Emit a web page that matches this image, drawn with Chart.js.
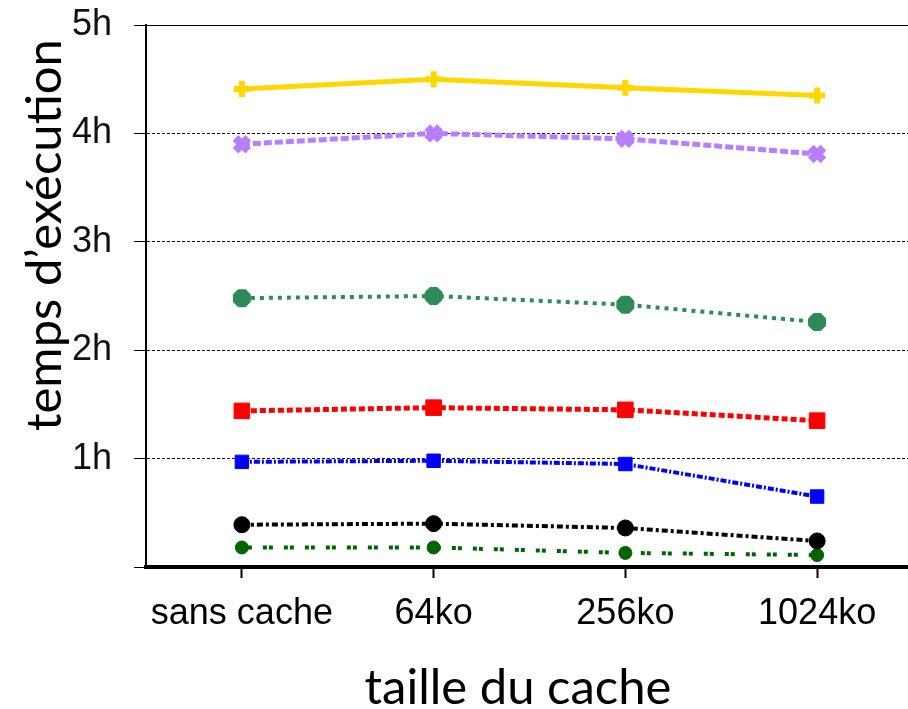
<!DOCTYPE html>
<html>
<head>
<meta charset="utf-8">
<script src="https://cdn.jsdelivr.net/npm/chart.js@4.4.1/dist/chart.umd.min.js"></script>
<style>
html,body{margin:0;padding:0;overflow:hidden;background:#fff;}
#wrap{width:930px;height:709px;}
</style>
</head>
<body>
<div id="wrap"><canvas id="c" width="930" height="709"></canvas></div>
<script>
const categories = ['sans cache', '64ko', '256ko', '1024ko'];
const serieJaune   = [4.41, 4.50, 4.42, 4.35];
const serieViolet  = [3.90, 4.00, 3.95, 3.81];
const serieVert    = [2.48, 2.50, 2.42, 2.26];
const serieRouge   = [1.44, 1.47, 1.45, 1.35];
const serieBleu    = [0.97, 0.98, 0.95, 0.65];
const serieNoir    = [0.39, 0.40, 0.36, 0.24];
const serieVertFonce = [0.18, 0.18, 0.13, 0.11];
const yTicks = [0, 1, 2, 3, 4, 5];
const yTitle = 'temps d\u2019exécution';
const xTitle = 'taille du cache';

function ds(data, color, dash, width, style, radius, pbw) {
  return {
    data: data, borderColor: color, backgroundColor: color,
    borderDash: dash, borderWidth: width, pointStyle: style,
    pointRadius: radius, pointBorderWidth: pbw, pointBackgroundColor: color,
    pointBorderColor: color, tension: 0, fill: false
  };
}

const titlesPlugin = {
  id: 'titles',
  afterDraw(chart) {
    const ctx = chart.ctx;
    ctx.save();
    ctx.fillStyle = '#000';
    ctx.font = '49px Lato, "Open Sans", sans-serif';
    ctx.textAlign = 'center';
    ctx.textBaseline = 'alphabetic';
    ctx.fillText(xTitle, 518, 704);
    ctx.translate(61, 235);
    ctx.rotate(-Math.PI / 2);
    ctx.fillText(yTitle, 0, 0);
    ctx.restore();
  }
};

new Chart(document.getElementById('c'), {
  type: 'line',
  data: {
    labels: categories,
    datasets: [
      ds(serieJaune, '#FFD700', [], 5, 'cross', 8, 6),
      ds(serieViolet, '#B77FFF', [8, 3], 5, 'crossRot', 9, 8),
      ds(serieVert, '#2E8B57', [4, 5], 4, 'star', 9, 7),
      ds(serieRouge, '#FF0000', [6, 3], 5, 'rect', 11, 1),
      ds(serieBleu, '#0000FF', [6, 2, 2, 2], 4, 'rect', 9.5, 1),
      ds(serieNoir, '#000000', [6, 3, 3, 3], 4, 'circle', 8, 1),
      ds(serieVertFonce, '#006400', [4, 2, 4, 11], 4, 'circle', 6.5, 1)
    ]
  },
  options: {
    responsive: false,
    animation: false,
    layout: { padding: { top: 25, left: 0, right: 0, bottom: 0 } },
    plugins: { legend: { display: false }, tooltip: { enabled: false } },
    scales: {
      x: {
        type: 'category',
        offset: true,
        afterFit(s) { s.height = 142; },
        grid: { offset: false, drawOnChartArea: false, drawTicks: true, tickLength: 11, tickWidth: 2, tickColor: '#000' },
        border: { display: true, width: 4, color: '#000' },
        ticks: { color: '#000', padding: 14, font: { family: '"Liberation Sans", Arial, sans-serif', size: 36 }, maxRotation: 0, autoSkip: false }
      },
      y: {
        min: 0, max: 5,
        afterFit(s) { s.width = 146; s.paddingTop = 0; s.paddingBottom = 0; },
        afterBuildTicks(s) { s.ticks = yTicks.map(v => ({ value: v })); },
        grid: {
          color: ctx => (ctx.tick && ctx.tick.value === 0) ? 'rgba(0,0,0,0)' : '#000',
          lineWidth: 1, tickLength: 12, tickColor: '#000', tickWidth: 1
        },
        border: {
          display: true, width: 2, color: '#000',
          dash: ctx => (ctx.tick && ctx.tick.value === 5) ? [] : [3, 2]
        },
        ticks: {
          color: '#111', padding: 22,
          font: { family: '"Liberation Sans", Arial, sans-serif', size: 36 },
          callback: v => v === 0 ? '' : v + 'h'
        }
      }
    }
  },
  plugins: [titlesPlugin]
});
</script>
</body>
</html>
